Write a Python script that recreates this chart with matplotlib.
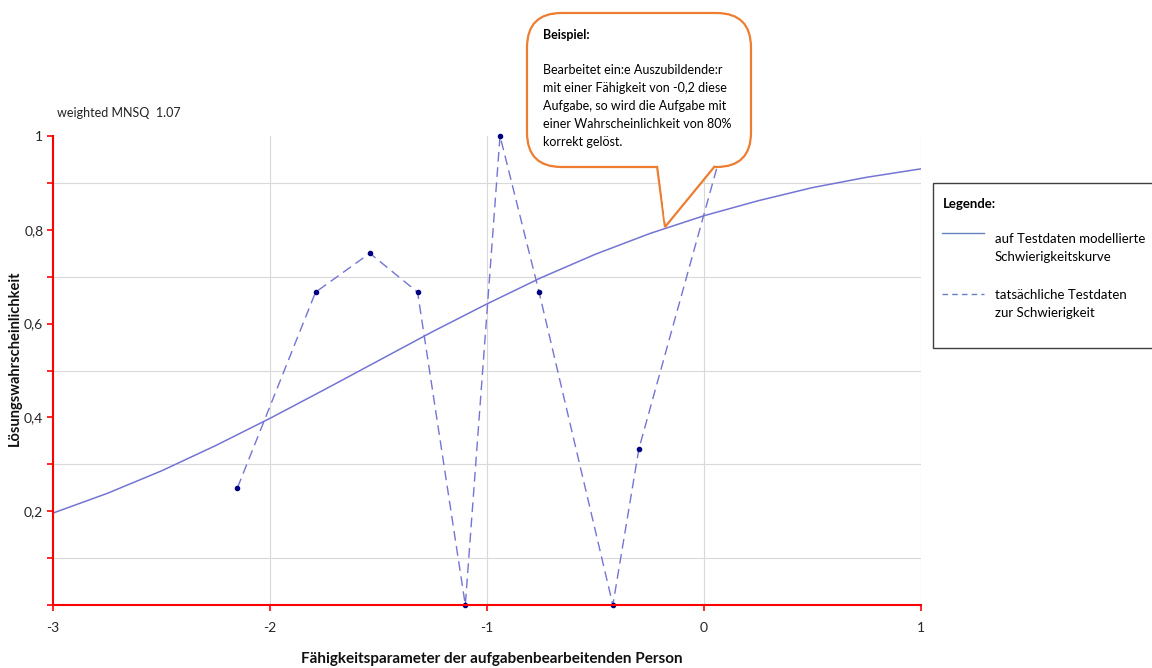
import matplotlib
matplotlib.use("Agg")
import matplotlib.pyplot as plt
from matplotlib.lines import Line2D
from matplotlib.patches import FancyBboxPatch, Polygon, Rectangle

plt.rcParams["font.family"] = ["Lato", "DejaVu Sans"]

W, H = 1152, 668

# modellierte Schwierigkeitskurve
curve_x = [-3.0, -2.75, -2.5, -2.25, -2.0, -1.75, -1.5, -1.25, -1.0, -0.75, -0.5, -0.25, 0.0, 0.25, 0.5, 0.75, 1.0]
curve_y = [0.196, 0.238, 0.286, 0.340, 0.398, 0.459, 0.521, 0.583, 0.642, 0.698, 0.748, 0.792, 0.830, 0.862, 0.890, 0.912, 0.930]

# tatsächliche Testdaten
obs_x = [-2.15, -1.79, -1.54, -1.32, -1.10, -0.94, -0.76, -0.42, -0.30, 0.10]
obs_y = [0.25, 0.667, 0.75, 0.667, 0.0, 1.0, 0.667, 0.0, 0.333, 1.0]

x_ticks = [-3, -2, -1, 0, 1]
x_tick_labels = ["-3", "-2", "-1", "0", "1"]
y_ticks = [0.2, 0.4, 0.6, 0.8, 1.0]
y_tick_labels = ["0,2", "0,4", "0,6", "0,8", "1"]

CURVE = "#7474d4"
MARK = "#000080"
ORANGE = "#ed7d31"
RED = "#ff0000"
GRID = "#d9d9d9"


def fx(px):
    return px / W


def fy(py):
    return 1 - py / H


fig = plt.figure(figsize=(W / 100, H / 100), dpi=100)
ax = fig.add_axes([fx(53), fy(605), fx(921) - fx(53), fy(136) - fy(605)])

ax.plot(curve_x, curve_y, color=CURVE, lw=1.1, zorder=3)
ax.plot(obs_x, obs_y, color=CURVE, lw=1.0, dashes=(7, 4), zorder=3)
ax.plot(obs_x, obs_y, ls="none", marker="o", ms=3, color=MARK, zorder=4, clip_on=False)

ax.set_xlim(-3, 1)
ax.set_ylim(0, 1)
ax.set_xticks(x_ticks, x_tick_labels)
ax.set_yticks(y_ticks, y_tick_labels)
ax.set_yticks([i / 10 for i in range(11)], minor=True)
ax.tick_params(axis="both", colors=RED, labelcolor="#262626", labelsize=10, length=4, width=1.2)
ax.tick_params(axis="y", which="minor", colors=RED, length=4, width=1.2)
ax.tick_params(axis="x", pad=8)
ax.tick_params(axis="y", pad=3)
ax.grid(True, which="minor", axis="y", color=GRID, lw=0.8)
ax.grid(True, which="major", axis="x", color=GRID, lw=0.8)
ax.set_axisbelow(True)
for side in ("top", "right"):
    ax.spines[side].set_visible(False)
for side in ("left", "bottom"):
    ax.spines[side].set_color(RED)
    ax.spines[side].set_linewidth(1.5)
    ax.spines[side].set_zorder(5)

fig.text(fx(15), fy(358), "Lösungswahrscheinlichkeit", rotation=90, ha="center", va="center",
         fontsize=10.5, fontweight="bold", color="#111111")
fig.text(fx(492), fy(659), "Fähigkeitsparameter der aufgabenbearbeitenden Person", ha="center", va="center",
         fontsize=11, fontweight="bold", color="#111111")
fig.text(fx(57), fy(113), "weighted MNSQ  1.07", ha="left", va="center", fontsize=9, color="#222222")

# Legende
fig.add_artist(Rectangle((fx(933), fy(348)), fx(1160) - fx(933), fy(183) - fy(348), transform=fig.transFigure,
                         facecolor="white", edgecolor="#404040", lw=1.0, zorder=6))
fig.text(fx(943), fy(204), "Legende:", ha="left", va="center", fontsize=9.5, fontweight="bold", zorder=7)
fig.add_artist(Line2D([fx(942), fx(984)], [fy(233), fy(233)], color="#6282c0", lw=1.0, zorder=7))
fig.add_artist(Line2D([fx(942), fx(984)], [fy(294), fy(294)], color="#6282c0", lw=1.0, dashes=(4, 3), zorder=7))
fig.text(fx(995), fy(248), "auf Testdaten modellierte\nSchwierigkeitskurve", ha="left", va="center",
         fontsize=9.5, linespacing=1.65, zorder=7)
fig.text(fx(995), fy(304), "tatsächliche Testdaten\nzur Schwierigkeit", ha="left", va="center",
         fontsize=9.5, linespacing=1.65, zorder=7)

# Sprechblase
fig.add_artist(FancyBboxPatch((fx(527), fy(167)), fx(751) - fx(527), fy(13) - fy(167),
                              boxstyle="round,pad=0,rounding_size=0.03", transform=fig.transFigure,
                              facecolor="white", edgecolor=ORANGE, lw=1.6, zorder=8, mutation_aspect=W / H))
pointer = [(fx(657), fy(166)), (fx(665), fy(227)), (fx(715), fy(166))]
fig.add_artist(Polygon(pointer, closed=False, transform=fig.transFigure, facecolor="white",
                       edgecolor=ORANGE, lw=1.6, zorder=9, joinstyle="miter"))
fig.add_artist(Polygon([(fx(659), fy(165)), (fx(665), fy(222)), (fx(713), fy(165))], closed=True,
                       transform=fig.transFigure, facecolor="white", edgecolor="none", zorder=9.5))
fig.text(fx(543), fy(35), "Beispiel:", ha="left", va="center", fontsize=9, fontweight="bold", zorder=10)
fig.text(fx(543), fy(106),
         "Bearbeitet ein:e Auszubildende:r\nmit einer Fähigkeit von -0,2 diese\n"
         "Aufgabe, so wird die Aufgabe mit\neiner Wahrscheinlichkeit von 80%\nkorrekt gelöst.",
         ha="left", va="center", fontsize=9, linespacing=1.6, zorder=10)

fig.savefig("out.png", dpi=100)
